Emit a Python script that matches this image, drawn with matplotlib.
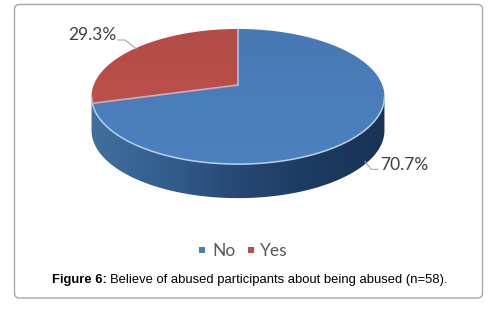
import numpy as np
import matplotlib
matplotlib.use("Agg")
import matplotlib.pyplot as plt
from matplotlib.colors import LinearSegmentedColormap
from matplotlib.patches import FancyBboxPatch, Polygon, Rectangle

labels = ["No", "Yes"]
values = [70.7, 29.3]
colors = ["#4a7ebb", "#bb4f4b"]
pct_labels = ["70.7%", "29.3%"]
caption_bold = "Figure 6:"
caption_rest = "Believe of abused participants about being abused (n=58)."

# pie geometry in pixels, tilted circle drawn with a small perspective
cx, cy = 238, 85
sx, sy = 144.3, 65.6
tilt = 0.171
depth = 34


def project(theta):
    # theta is clockwise from 12 o'clock
    u = np.sin(theta)
    v = np.cos(theta)
    d = 1 + tilt * v
    return cx + sx * u / d, cy - sy * v / d


def gradient_fill(ax, poly, cols, extent, horizontal=True, zorder=2):
    cmap = LinearSegmentedColormap.from_list("g", cols)
    grad = np.linspace(0, 1, 256)
    grad = grad.reshape(1, -1) if horizontal else grad.reshape(-1, 1)
    im = ax.imshow(grad, cmap=cmap, extent=extent, aspect="auto", zorder=zorder, interpolation="bilinear")
    patch = Polygon(poly, closed=True, transform=ax.transData, facecolor="none", edgecolor="none")
    ax.add_patch(patch)
    im.set_clip_path(patch)


fig = plt.figure(figsize=(4.98, 3.16), dpi=100)
ax = fig.add_axes([0, 0, 1, 1])
ax.set_xlim(0, 498)
ax.set_ylim(316, 0)
ax.axis("off")

# frame round the figure
ax.add_patch(FancyBboxPatch((14.5, 4.5), 468, 293.5, boxstyle="round,pad=0,rounding_size=5",
                            facecolor="white", edgecolor="#a6a6a6", linewidth=1.0, zorder=1))

# side wall
ring = np.linspace(0, 2 * np.pi, 721)
rx, ry = project(ring)
i_right = np.argmax(rx)
i_left = np.argmin(rx)
fx, fy = rx[i_right:i_left + 1], ry[i_right:i_left + 1]
wall = np.column_stack([np.r_[fx, fx[::-1]], np.r_[fy, fy[::-1] + depth]])
gradient_fill(ax, wall, ["#41709f", "#335e8d", "#264875", "#1d3a60", "#1a3354"],
              (90, 387, 316, 0), zorder=2)

# top slices, clockwise from 12 o'clock
total = sum(values)
start = 0.0
edges = []
for val, col in zip(values, colors):
    end = start + val / total * 2 * np.pi
    t = np.linspace(start, end, 300)
    x, y = project(t)
    pts = np.column_stack([np.r_[cx, x], np.r_[cy, y]])
    rgb = np.array(matplotlib.colors.to_rgb(col))
    gradient_fill(ax, pts, [rgb * 0.95, rgb, rgb * 1.02], (90, 387, 170, 25), horizontal=False, zorder=3)
    edges.append((x[-1], y[-1]))
    start = end

# light rim and slice borders
ax.plot(fx, fy, color="#b4d2ee", lw=1.1, zorder=4, solid_capstyle="round")
ax.plot([cx, edges[0][0]], [cy, edges[0][1]], color="#d9a9ae", lw=1.2, zorder=4)
ax.plot([cx, edges[1][0]], [cy, edges[1][1]], color="#a9c6e4", lw=1.2, zorder=4)

# data labels and leader lines
ax.text(380, 164.5, pct_labels[0], family="Lato", fontsize=12.5, color="#404040", ha="left", va="center", zorder=5)
ax.text(68, 35.5, pct_labels[1], family="Lato", fontsize=12.5, color="#404040", ha="left", va="center", zorder=5)
ax.plot([365, 371, 378], [161.5, 169.3, 169.3], color="#a6a6a6", lw=0.8, zorder=5)
ax.plot([118, 125, 136], [40, 40, 48.5], color="#a6a6a6", lw=0.8, zorder=5)

# legend
legend_box_x = [199, 248]
legend_text_x = [212, 260]
for name, col, bx, tx in zip(labels, colors, legend_box_x, legend_text_x):
    ax.add_patch(Rectangle((bx, 247), 6, 6, facecolor=col, edgecolor="none", zorder=5))
    ax.text(tx, 250.5, name, family="Lato", fontsize=12.5, color="#595959", ha="left", va="center", zorder=5)

# caption
ax.text(52.5, 279.5, caption_bold, family="Liberation Sans", fontweight="bold", fontsize=9.35,
        color="black", ha="left", va="center", zorder=5)
ax.text(110.5, 279.5, caption_rest, family="Liberation Sans", fontsize=9.4,
        color="black", ha="left", va="center", zorder=5)

ax.set_xlim(0, 498)
ax.set_ylim(316, 0)
fig.savefig("out.png", dpi=100, facecolor="white")
